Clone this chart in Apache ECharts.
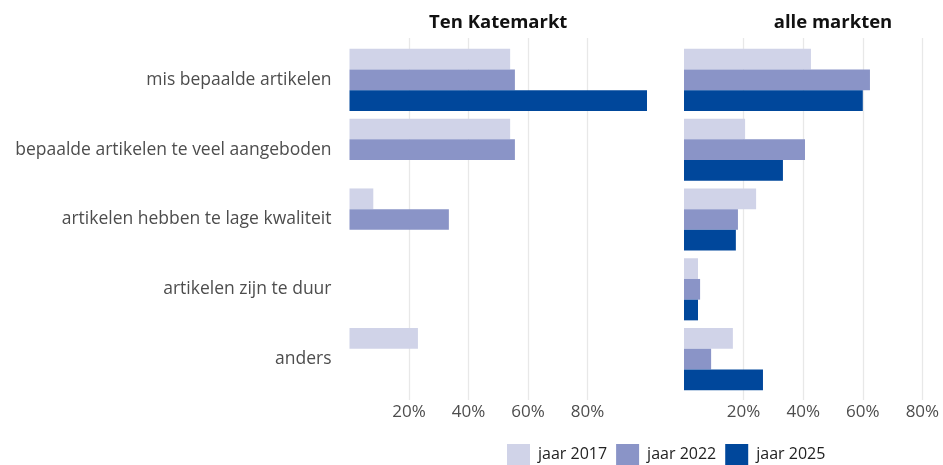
<!DOCTYPE html>
<html style="height: 100%">
<head>
    <meta charset="utf-8">
    <title>Redenen ontevredenheid aanbod</title>
</head>
<body style="margin: 0">
<div id="container" style="width: 943px; height: 465px"></div>

<script src="https://cdn.jsdelivr.net/npm/echarts@6/dist/echarts.min.js" type="text/javascript"></script>
<script type="text/javascript">

    var categories = [
        'mis bepaalde artikelen',
        'bepaalde artikelen te veel aangeboden',
        'artikelen hebben te lage kwaliteit',
        'artikelen zijn te duur',
        'anders'
    ];
    var panelTitles = ['Ten Katemarkt', 'alle markten'];
    var yearNames = ['jaar 2017', 'jaar 2022', 'jaar 2025'];
    var yearColors = ['#d0d3e8', '#8a94c7', '#00479b'];
    var tickValues = [20, 40, 60, 80];

    // percentages, null = no bar
    var tenKate2017 = [54, 54, 8, null, 23];
    var tenKate2022 = [55.6, 55.6, 33.4, null, null];
    var tenKate2025 = [100, null, null, null, null];

    var alle2017 = [42.6, 20.5, 24.2, 4.7, 16.4];
    var alle2022 = [62.4, 40.6, 18.1, 5.4, 9.1];
    var alle2025 = [60, 33.2, 17.4, 4.7, 26.5];

    var panelData = [
        [tenKate2017, tenKate2022, tenKate2025],
        [alle2017, alle2022, alle2025]
    ];

    var font = 'Open Sans';
    var dom = document.getElementById('container');
    var myChart = echarts.init(dom);

    // each panel runs 0..100%, the right one is cut off by the window edge
    var panelLeft = [349.5, 684];
    var panelWidth = [297.5, 298];

    var grids = [];
    var xAxes = [];
    var yAxes = [];
    var series = [];
    var titles = [];

    // grids 0/1: gridlines + tick labels (20..80 only), grids 2/3: the bars
    for (var p = 0; p < 2; p++) {
        var step = panelWidth[p] / 5;
        grids.push({
            left: panelLeft[p] + step, width: step * 3, top: 38, height: 362,
            outerBoundsMode: 'none'
        });
    }
    for (var p = 0; p < 2; p++) {
        grids.push({
            left: panelLeft[p], width: panelWidth[p], top: 45, height: 349,
            outerBoundsMode: 'none'
        });
    }

    for (var p = 0; p < 2; p++) {
        xAxes.push({
            type: 'value', gridIndex: p, min: 20, max: 80, interval: 20,
            axisLine: {show: false}, axisTick: {show: false},
            splitLine: {show: true, lineStyle: {color: '#e8e8e8', width: 1.3}},
            axisLabel: {
                margin: 4, fontFamily: font, fontSize: 17, color: '#4d4d4d',
                formatter: function (v) { return tickValues.indexOf(v) >= 0 ? v + '%' : ''; }
            }
        });
        yAxes.push({type: 'value', gridIndex: p, show: false});
    }
    for (var p = 0; p < 2; p++) {
        xAxes.push({
            type: 'value', gridIndex: p + 2, min: 0, max: 100, show: false
        });
        yAxes.push({
            type: 'category', gridIndex: p + 2, data: categories, inverse: true,
            axisLine: {show: false}, axisTick: {show: false},
            axisLabel: {
                show: p === 0, margin: 18, fontFamily: font, fontSize: 17.5, color: '#4d4d4d'
            }
        });
        for (var s = 0; s < 3; s++) {
            series.push({
                type: 'bar', name: yearNames[s],
                xAxisIndex: p + 2, yAxisIndex: p + 2,
                data: panelData[p][s],
                barWidth: 20.7, barGap: '0%',
                itemStyle: {color: yearColors[s]},
                silent: true
            });
        }
        titles.push({
            type: 'text',
            x: panelLeft[p] + panelWidth[p] / 2, y: 23,
            style: {
                text: panelTitles[p], align: 'center', verticalAlign: 'middle',
                fontFamily: font, fontSize: 18.5, fontWeight: 'bold', fill: '#111'
            }
        });
    }

    var option = {
        animation: false,
        backgroundColor: '#fff',
        graphic: titles,
        legend: {
            data: yearNames,
            left: 507, top: 444, padding: 0,
            itemWidth: 23, itemHeight: 21, itemGap: 9,
            icon: 'rect',
            textStyle: {fontFamily: font, fontSize: 16, color: '#222', padding: [0, 0, 0, 3]}
        },
        grid: grids,
        xAxis: xAxes,
        yAxis: yAxes,
        series: series
    };

    if (option && typeof option === "object") {
        myChart.setOption(option, true);
    }
</script>
</body>
</html>
